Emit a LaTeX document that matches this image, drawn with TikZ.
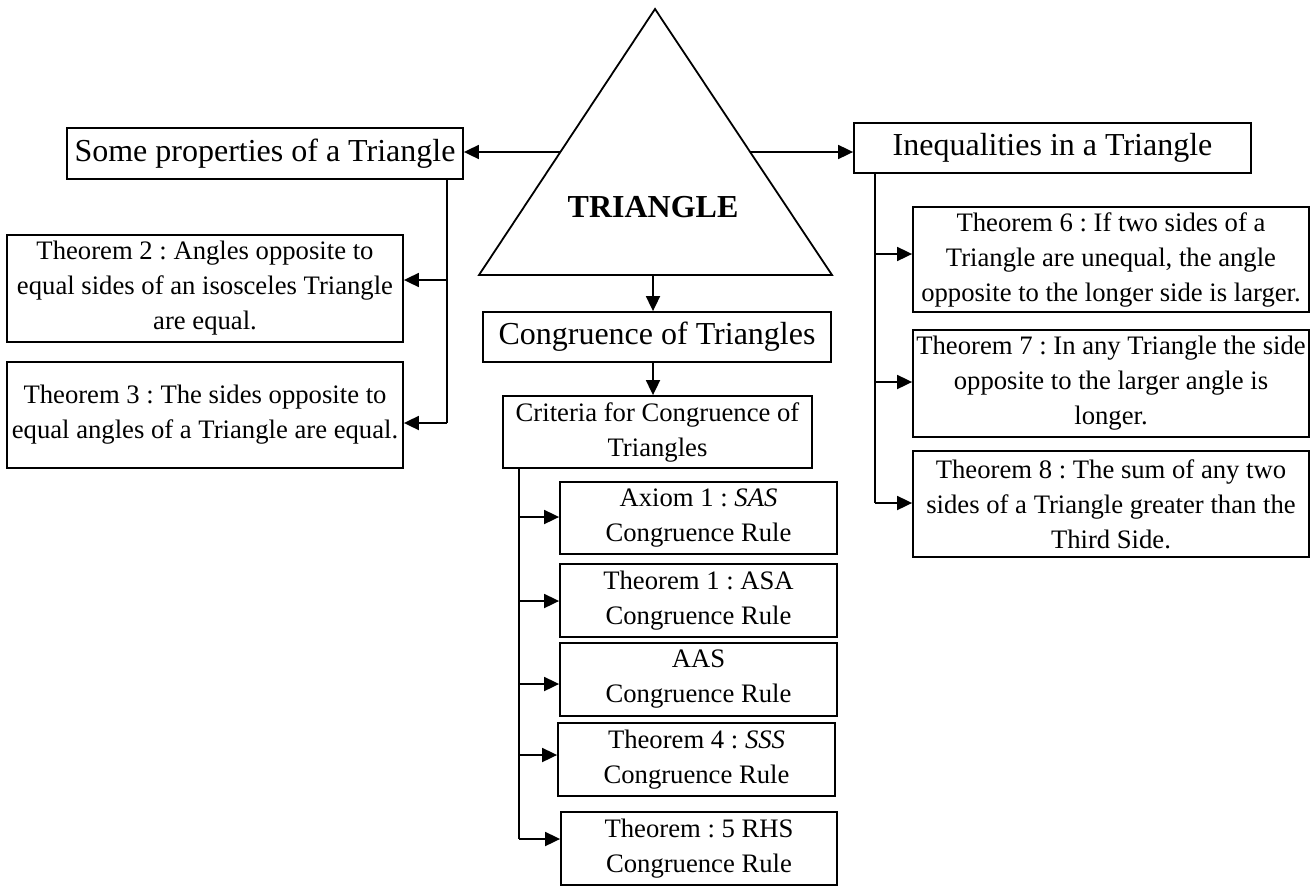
\documentclass[tikz,border=0pt]{standalone}
\usepackage{fontspec}
\setmainfont{Liberation Serif}
\usetikzlibrary{arrows.meta,calc}
\frenchspacing
\begin{document}
\begin{tikzpicture}[x=1pt,y=-1pt,
  box/.style={draw,line width=1.8pt,inner sep=0pt,align=center,
    font=\fontsize{26.67pt}{35pt}\selectfont},
  bigbox/.style={box,font=\fontsize{32pt}{38pt}\selectfont},
  conn/.style={line width=1.8pt},
  arr/.style={conn,-{Triangle[length=15pt,width=14pt]}}]
\useasboundingbox (0,0) rectangle (1314,886);
% central triangle
\coordinate (apex) at (655,9);
\coordinate (bl) at (479,275);
\coordinate (br) at (832,275);
\draw[line width=1.8pt,line join=miter] (apex) -- (bl) -- (br) -- cycle;
\node[font=\fontsize{32pt}{38pt}\selectfont\bfseries] (tri) at (653,207) {TRIANGLE};
\coordinate (tL) at (560,152);
\coordinate (tR) at (750,152);
\coordinate (tB) at (653,275);
% boxes
\node[bigbox,minimum width=396pt,minimum height=51pt] (props) at (265,153.5) {Some properties of a Triangle};
\node[bigbox,minimum width=397pt,minimum height=50pt] (ineq) at (1052.5,148) {Inequalities in a Triangle};
\node[bigbox,minimum width=348pt,minimum height=50pt] (cong) at (657,337) {Congruence of Triangles};
\node[box,minimum width=396pt,minimum height=107pt] (th2) at (205,288.5) {Theorem 2 : Angles opposite to\\equal sides of an isosceles Triangle\\are equal.};
\node[box,minimum width=396pt,minimum height=106pt] (th3) at (205,415) {Theorem 3 : The sides opposite to\\equal angles of a Triangle are equal.};
\node[box,minimum width=396pt,minimum height=105pt] (th6) at (1111,259.5) {Theorem 6 : If two sides of a\\Triangle are unequal, the angle\\opposite to the longer side is larger.};
\node[box,minimum width=396pt,minimum height=107pt] (th7) at (1111,383.5) {Theorem 7 : In any Triangle the side\\opposite to the larger angle is\\longer.};
\node[box,minimum width=396pt,minimum height=106pt] (th8) at (1111,504) {Theorem 8 : The sum of any two\\sides of a Triangle greater than the\\Third Side.};
\node[box,minimum width=309pt,minimum height=72pt] (crit) at (657.5,432) {Criteria for Congruence of\\Triangles};
\node[box,minimum width=277pt,minimum height=72pt] (ax1) at (698.5,518) {Axiom 1 : \textit{SAS}\\Congruence Rule};
\node[box,minimum width=277pt,minimum height=73pt] (t1) at (698.5,600.5) {Theorem 1 : ASA\\Congruence Rule};
\node[box,minimum width=277pt,minimum height=73pt] (aas) at (698.5,679.5) {AAS\\Congruence Rule};
\node[box,minimum width=277pt,minimum height=73pt] (t4) at (696.5,759.5) {Theorem 4 : \textit{SSS}\\Congruence Rule};
\node[box,minimum width=276pt,minimum height=73pt] (t5) at (699,848.5) {Theorem : 5 RHS\\Congruence Rule};
% main connectors
\draw[arr] (tL) -- (tL -| props.east);
\draw[arr] (tR) -- (tR -| ineq.west);
\draw[arr] (tB) -- (tB |- cong.north);
\draw[arr] (cong.south -| tB) -- (tB |- crit.north);
% left trunk
\coordinate (a2) at (447,280);
\coordinate (a3) at (447,423);
\draw[conn] (props.south -| a2) -- (a3);
\draw[arr] (a2) -- (a2 -| th2.east);
\draw[arr] (a3) -- (a3 -| th3.east);
% right trunk
\coordinate (a6) at (875,254);
\coordinate (a7) at (875,382);
\coordinate (a8) at (875,503);
\draw[conn] (ineq.south -| a6) -- (a8);
\draw[arr] (a6) -- (a6 -| th6.west);
\draw[arr] (a7) -- (a7 -| th7.west);
\draw[arr] (a8) -- (a8 -| th8.west);
% bottom trunk
\coordinate (b1) at (519,517);
\coordinate (b2) at (519,601);
\coordinate (b3) at (519,684);
\coordinate (b4) at (519,755);
\coordinate (b5) at (519,839);
\draw[conn] (crit.south -| b1) -- (b5);
\draw[arr] (b1) -- (b1 -| ax1.west);
\draw[arr] (b2) -- (b2 -| t1.west);
\draw[arr] (b3) -- (b3 -| aas.west);
\draw[arr] (b4) -- (b4 -| t4.west);
\draw[arr] (b5) -- (b5 -| t5.west);
\end{tikzpicture}
\end{document}
